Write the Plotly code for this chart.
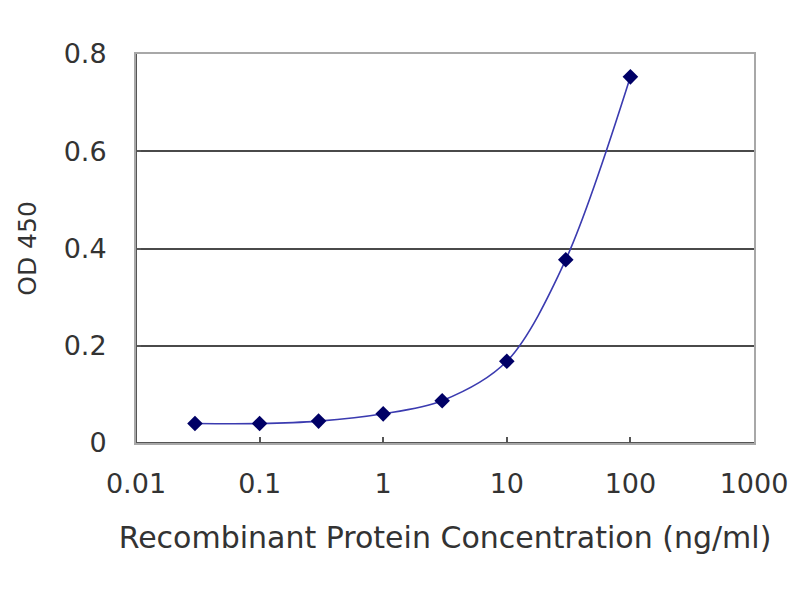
import plotly.graph_objects as go

# ELISA standard curve values
concentration = [0.03, 0.1, 0.3, 1, 3, 10, 30, 100]
od_450 = [0.040, 0.040, 0.045, 0.060, 0.087, 0.168, 0.377, 0.753]

y_ticks = [0, 0.2, 0.4, 0.6, 0.8]
y_tick_labels = ['0', '0.2', '0.4', '0.6', '0.8']
x_ticks = [0.01, 0.1, 1, 10, 100, 1000]
x_tick_labels = ['0.01', '0.1', '1', '10', '100', '1000']

font_family = 'DejaVu Sans, Arial, sans-serif'
text_color = '#333333'
dark_line = '#555555'
light_line = '#a8a8a8'

fig = go.Figure()

fig.add_trace(go.Scatter(
    x=concentration,
    y=od_450,
    mode='lines+markers',
    line=dict(color='#3b3bb0', width=1.6, shape='spline', smoothing=0.9),
    marker=dict(symbol='diamond', size=12, color='#000066'),
    showlegend=False,
    hoverinfo='x+y'
))

# dark axis lines on left and bottom (frame is light gray)
fig.add_shape(type='line', xref='paper', yref='paper', x0=0, x1=0, y0=0, y1=1,
              line=dict(color=dark_line, width=2), layer='below')
fig.add_shape(type='line', xref='paper', yref='paper', x0=0, x1=1, y0=0, y1=0,
              line=dict(color=dark_line, width=2), layer='below')

fig.update_layout(
    width=792,
    height=592,
    margin=dict(l=128, r=39, t=46, b=157),
    paper_bgcolor='white',
    plot_bgcolor='white',
    font=dict(family=font_family, color=text_color, size=25),
    xaxis=dict(
        type='log',
        range=[-2, 3],
        tickvals=x_ticks,
        ticktext=x_tick_labels,
        ticks='inside',
        ticklen=6,
        tickwidth=2,
        tickcolor=dark_line,
        showgrid=False,
        showline=True,
        mirror=True,
        linecolor=light_line,
        linewidth=2,
        ticklabelstandoff=16,
        tickfont=dict(size=27),
        title=dict(text='Recombinant Protein Concentration (ng/ml)',
                   font=dict(size=30), standoff=29),
    ),
    yaxis=dict(
        range=[0, 0.8],
        tickvals=y_ticks,
        ticktext=y_tick_labels,
        ticks='inside',
        ticklen=5,
        tickwidth=2,
        tickcolor=dark_line,
        showgrid=True,
        gridcolor='#4a4a4a',
        gridwidth=2,
        zeroline=False,
        showline=True,
        mirror=True,
        linecolor=light_line,
        linewidth=2,
        ticklabelstandoff=22,
        tickfont=dict(size=27),
        title=dict(text='OD 450', font=dict(size=25), standoff=20),
    ),
)

fig.write_html("out.html")
